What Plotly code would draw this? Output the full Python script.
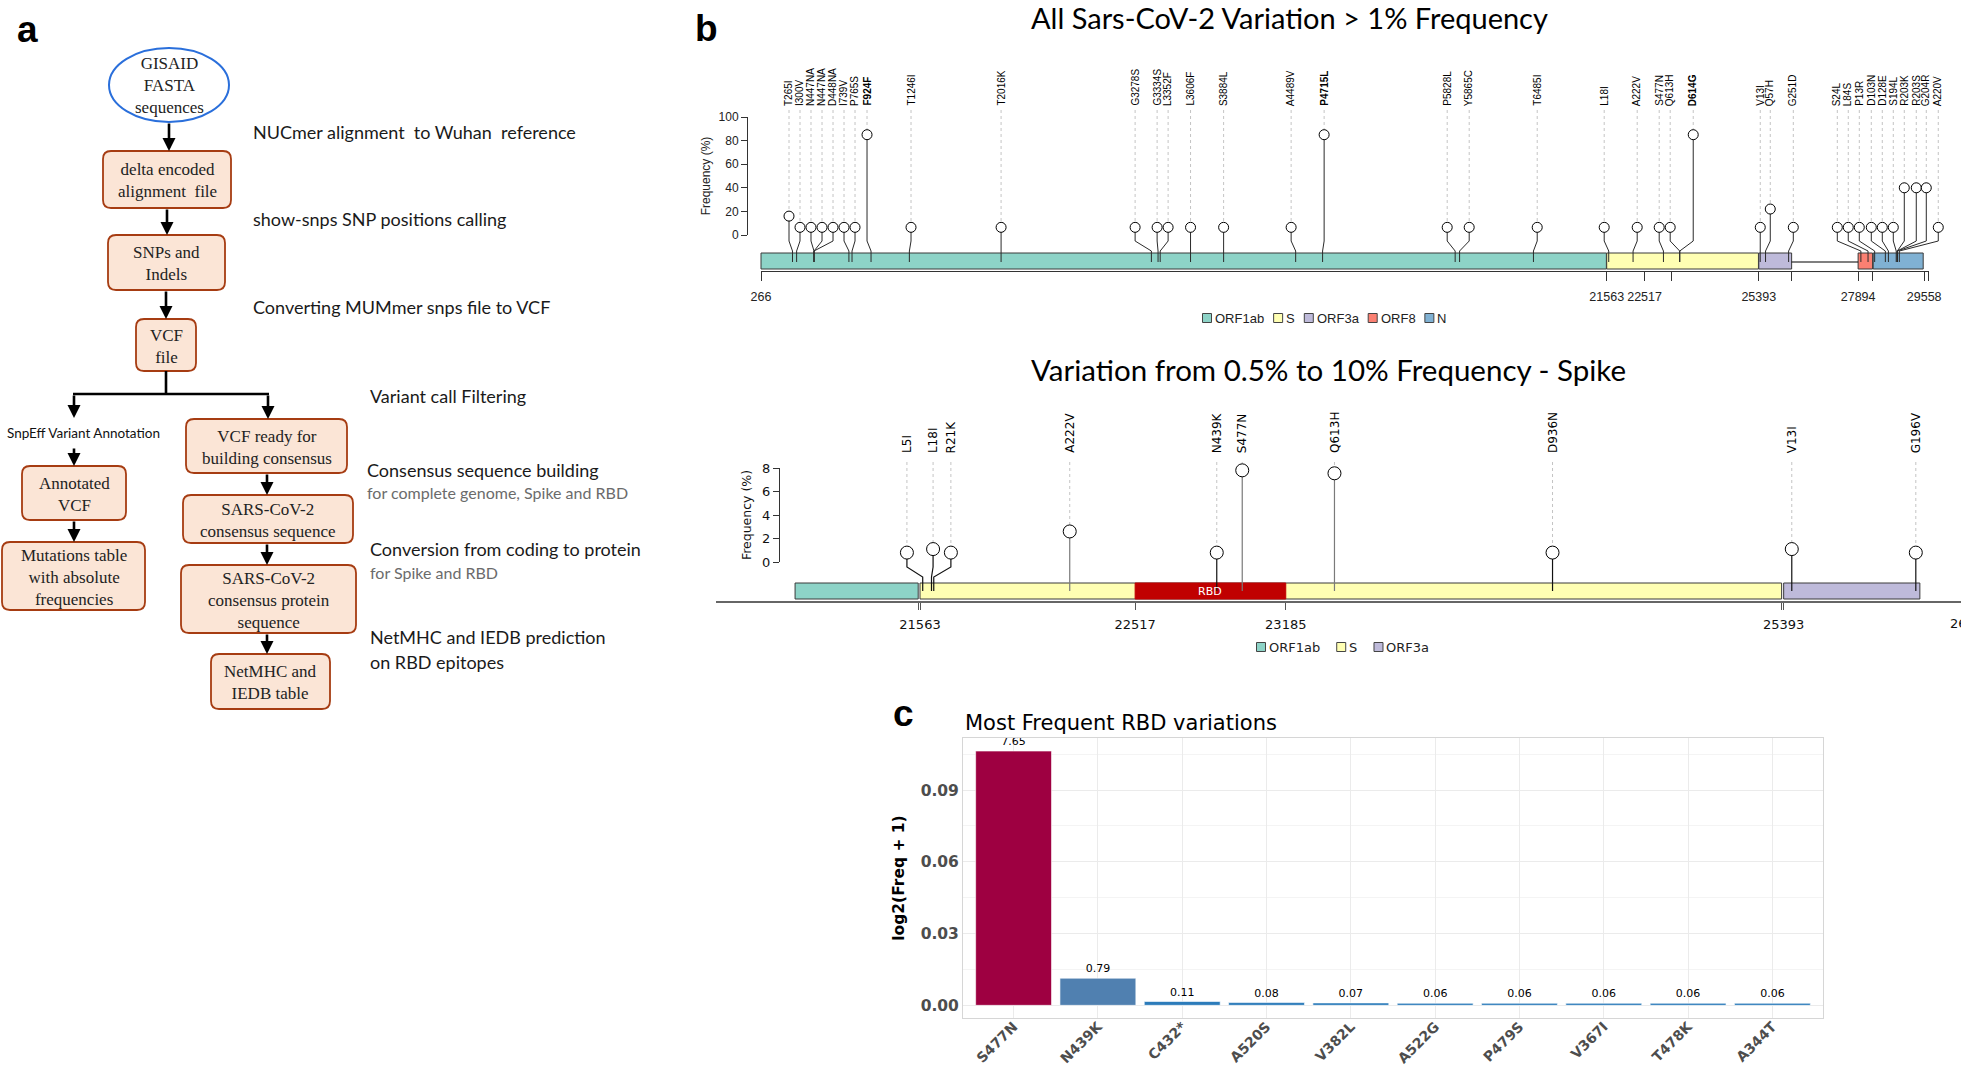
import math
import plotly.graph_objects as go

W, H = 1961, 1070

# ======================= DATA =======================
# Panel b (top): all SARS-CoV-2 variations > 1 % frequency
top_labels = ["T265I", "I300V", "N447NA", "N447NA", "D448NA", "I739V", "P765S", "F924F", "T1246I", "T2016K",
              "G3278S", "G3334S", "L3352F", "L3606F", "S3884L", "A4489V", "P4715L", "P5828L", "Y5865C", "T6485I",
              "L18I", "A222V", "S477N", "Q613H", "D614G", "V13I", "Q57H", "G251D",
              "S24L", "L84S", "P13R", "D103N", "D128E", "S194L", "R203K", "R203S", "G204R", "A220V"]
top_positions = [1059, 1163, 1601, 1601, 1601, 2480, 2558, 3037, 4002, 6312,
                 10097, 10265, 10319, 11083, 11916, 13730, 14408, 17747, 17858, 19718,
                 21614, 22227, 22992, 23401, 23403, 25429, 25563, 26144,
                 27964, 28144, 28311, 28580, 28657, 28854, 28881, 28882, 28883, 28932]
# genomic coordinate at which each lollipop head / label is placed (spread to avoid overlap)
top_label_positions = [971, 1248, 1525, 1803, 2080, 2357, 2634, 2936, 4044, 6312,
                       9687, 10241, 10518, 11083, 11916, 13616, 14447, 17546, 18100, 19813,
                       21500, 22331, 22885, 23162, 23742, 25430, 25682, 26262,
                       27370, 27646, 27924, 28226, 28503, 28780, 29057, 29359, 29611, 29913]
top_freq = [16, 6.5, 6.5, 6.5, 6.5, 6.5, 6.5, 85, 6.5, 6.5,
            6.5, 6.5, 6.5, 6.5, 6.5, 6.5, 85, 6.5, 6.5, 6.5,
            6.5, 6.5, 6.5, 6.5, 85, 6.5, 22, 6.5,
            6.5, 6.5, 6.5, 6.5, 6.5, 6.5, 40, 40, 40, 6.5]

genes_top = ["ORF1ab", "S", "ORF3a", "ORF8", "N"]
genes_top_start = [266, 21563, 25393, 27894, 28274]
genes_top_end = [21555, 25384, 26220, 28259, 29533]
top_ticks_labeled = [266, 21563, 22517, 25393, 27894, 29558]
top_ticks_unlabeled = [23185, 26220, 28259, 29674]
top_freq_ticks = [0, 20, 40, 60, 80, 100]

# Panel b (bottom): variation 0.5 % - 10 % in Spike
spike_labels = ["L5I", "L18I", "R21K", "A222V", "N439K", "S477N", "Q613H", "D936N", "V13I", "G196V"]
spike_positions = [21575, 21614, 21624, 22227, 22879, 22992, 23401, 24368, 25429, 25979]
spike_label_positions = [21505, 21621, 21700, 22227, 22879, 22992, 23401, 24368, 25429, 25979]
spike_freq = [0.8, 1.1, 0.8, 2.6, 0.8, 7.8, 7.55, 0.8, 1.1, 0.8]
genes_spike = ["ORF1ab", "S", "ORF3a"]
genes_spike_start = [21009, 21563, 25393]
genes_spike_end = [21555, 25384, 25997]
rbd_region = [22517, 23185]
spike_ticks_labeled = [21563, 22517, 23185, 25393]
spike_ticks_unlabeled = [21555, 25384]
spike_tick_edge = 26220          # last tick, sits at the right border of the figure
spike_freq_ticks = [0, 2, 4, 6, 8]

# Panel c: most frequent RBD variations (frequency, %)
rbd_variants = ["S477N", "N439K", "C432*", "A520S", "V382L", "A522G", "P479S", "V367I", "T478K", "A344T"]
rbd_freq = [7.65, 0.79, 0.11, 0.08, 0.07, 0.06, 0.06, 0.06, 0.06, 0.06]
rbd_ticks = [0.0, 0.03, 0.06, 0.09]

# ======================= STYLE / HELPERS =======================
gene_colors = {"ORF1ab": "#8DD3C7", "S": "#FFFFB3", "ORF3a": "#BEBADA", "ORF8": "#FB8072", "N": "#80B1D3"}
bar_colors = ["#9E0041", "#5080B0"] + ["#2B7BBA"] * 8

ARIAL = "Liberation Sans, Arial, sans-serif"
DEJAVU = "DejaVu Sans, sans-serif"
CALIB = "Lato, Open Sans, sans-serif"
SERIF = "Liberation Serif, DejaVu Serif, serif"

W_ARIAL = {'O': .778, 'R': .722, 'F': .611, '1': .556, 'a': .556, 'b': .556, 'S': .667, '3': .556, '8': .556, 'N': .722}
W_DEJAVU = {'O': .787, 'R': .695, 'F': .575, '1': .636, 'a': .613, 'b': .635, 'S': .635, '3': .636, '8': .636, 'N': .748}


def text_w(s, table, size):
    return sum(table.get(c, 0.6) for c in s) * size


def pxx(p):
    return p / W


def pxy(p):
    return 1 - p / H


def xdom(a, b):
    return [a / W, min(b / W, 1.0)]


def ydom(top, bot):
    return [1 - bot / H, 1 - top / H]


# top track scales (pixel placement of the panel)
T_G0, T_PX0, T_SX = 266, 761, 0.03971        # genome 266 at px 761
T_PY0, T_SY = 235, 1.18                        # freq 0 at px 235


def t_g(p):
    return T_G0 + (p - T_PX0) / T_SX


def t_f(p):
    return (T_PY0 - p) / T_SY


# bottom track scales
B_G0, B_PX0, B_SX = 21563, 920, 0.2255
B_PY0, B_SY = 562, 11.75


def b_g(p):
    return B_G0 + (p - B_PX0) / B_SX


def b_px(g):
    return B_PX0 + (g - B_G0) * B_SX


def b_f(p):
    return (B_PY0 - p) / B_SY


fig = go.Figure()
shapes = []
annotations = []

# ======================= PANEL A (flow chart) =======================
def rounded_path(x0, y0, x1, y1, r=8):
    return (f"M{x0 + r},{y0} L{x1 - r},{y0} Q{x1},{y0} {x1},{y0 + r} L{x1},{y1 - r} "
            f"Q{x1},{y1} {x1 - r},{y1} L{x0 + r},{y1} Q{x0},{y1} {x0},{y1 - r} "
            f"L{x0},{y0 + r} Q{x0},{y0} {x0 + r},{y0} Z")


flow_boxes = [
    ("delta encoded<br>alignment  file", 103, 151, 231, 208),
    ("SNPs and<br>Indels", 108, 235, 225, 290),
    ("VCF<br>file", 136, 319, 196, 371),
    ("Annotated<br>VCF", 22, 466, 126, 520),
    ("Mutations table<br>with absolute<br>frequencies", 2, 542, 145, 610),
    ("VCF ready for<br>building consensus", 186, 419, 347, 473),
    ("SARS-CoV-2<br>consensus sequence", 183, 495, 353, 543),
    ("SARS-CoV-2<br>consensus protein<br>sequence", 181, 565, 356, 633),
    ("NetMHC and<br>IEDB table", 211, 654, 330, 709),
]
for txt, x0, y0, x1, y1 in flow_boxes:
    shapes.append(dict(type="path", path=rounded_path(x0, y0, x1, y1), xref="x", yref="y",
                       fillcolor="#FBE5D6", line=dict(color="#A63C12", width=1.8)))
    annotations.append(dict(text=txt, x=(x0 + x1) / 2, y=(y0 + y1) / 2 + 1, xref="x", yref="y",
                            showarrow=False, font=dict(family=SERIF, size=17, color="#222"),
                            align="center", xanchor="center", yanchor="middle"))
shapes.append(dict(type="circle", x0=109, y0=48, x1=229, y1=122, xref="x", yref="y",
                   fillcolor="white", line=dict(color="#2A6FDB", width=2)))
annotations.append(dict(text="GISAID<br>FASTA<br>sequences", x=169, y=85, xref="x", yref="y",
                        showarrow=False, font=dict(family=SERIF, size=17, color="#222"), align="center"))

flow_arrows = [((169, 122), (169, 151)), ((167, 208), (167, 235)), ((166, 290), (166, 319)),
               ((74, 394), (74, 418)), ((268, 394), (268, 419)), ((74, 447), (74, 466)),
               ((74, 520), (74, 542)), ((267, 473), (267, 495)), ((267, 543), (267, 565)),
               ((267, 633), (267, 654))]
for (xa, ya), (xh, yh) in flow_arrows:
    annotations.append(dict(text="", x=xh, y=yh, ax=xa, ay=ya, xref="x", yref="y", axref="x", ayref="y",
                            showarrow=True, arrowhead=2, arrowsize=1, arrowwidth=2.6, arrowcolor="black",
                            standoff=0, startstandoff=0))
shapes.append(dict(type="line", x0=166, y0=371, x1=166, y1=395, xref="x", yref="y", line=dict(color="black", width=2.6)))
shapes.append(dict(type="line", x0=73, y0=394, x1=269, y1=394, xref="x", yref="y", line=dict(color="black", width=2.6)))

flow_notes = [
    ("NUCmer alignment  to Wuhan  reference", 251, 132, 18, "#1a1a1a"),
    ("show-snps SNP positions calling", 251, 219, 18, "#1a1a1a"),
    ("Converting MUMmer snps file to VCF", 251, 307, 18, "#1a1a1a"),
    ("Variant call Filtering", 368, 396, 18, "#1a1a1a"),
    ("Consensus sequence building", 365, 470, 18, "#1a1a1a"),
    ("for complete genome, Spike and RBD", 365, 492, 16, "#6b6b6b"),
    ("Conversion from coding to protein", 368, 549, 18, "#1a1a1a"),
    ("for Spike and RBD", 368, 572, 16, "#6b6b6b"),
    ("NetMHC and IEDB prediction", 368, 637, 18, "#1a1a1a"),
    ("on RBD epitopes", 368, 662, 18, "#1a1a1a"),
]
for txt, x, y, s, c in flow_notes:
    annotations.append(dict(text=txt, x=x, y=y, xref="x", yref="y", showarrow=False, xanchor="left",
                            yanchor="middle", font=dict(family=CALIB, size=s, color=c)))
annotations.append(dict(text="SnpEff Variant Annotation", x=83, y=433, xref="x", yref="y", showarrow=False,
                        xanchor="center", font=dict(family=CALIB, size=13.5, color="#111")))

# panel letters
for letter, x, y in [("a", 27, 29), ("b", 706, 28), ("c", 903, 713)]:
    annotations.append(dict(text=f"<b>{letter}</b>", x=x, y=y, xref="x", yref="y", showarrow=False,
                            font=dict(family=ARIAL, size=37, color="black")))

# overlay pixel axis (diagram, legends)
fig.add_trace(go.Scatter(x=[0], y=[0], mode="markers", marker=dict(opacity=0), hoverinfo="skip",
                         xaxis="x", yaxis="y", showlegend=False))

# ======================= PANEL B TOP =======================
annotations.append(dict(text="All Sars-CoV-2 Variation > 1% Frequency", x=pxx(1029), y=pxy(18),
                        xref="paper", yref="paper", xanchor="left", yanchor="middle", showarrow=False,
                        font=dict(family=CALIB, size=29, color="black")))

for g, s0, s1 in zip(genes_top, genes_top_start, genes_top_end):
    shapes.append(dict(type="rect", x0=s0, x1=s1, xref="x2", y0=pxy(269), y1=pxy(253), yref="paper",
                       fillcolor=gene_colors[g], line=dict(color="#3a3a3a", width=1), layer="below"))
for i in range(len(genes_top) - 1):
    if genes_top_start[i + 1] - genes_top_end[i] > 100:
        shapes.append(dict(type="line", x0=genes_top_end[i], x1=genes_top_start[i + 1], xref="x2",
                           y0=pxy(262), y1=pxy(262), yref="paper", line=dict(color="black", width=1.2),
                           layer="below"))

sx, sy, dx, dy = [], [], [], []
for hp, bp, f in zip(top_label_positions, top_positions, top_freq):
    sx += [hp, hp, bp, bp, None]
    sy += [f, t_f(241), t_f(251), t_f(262), None]
    dx += [hp, hp, None]
    dy += [t_f(110), f + 5 / T_SY, None]
fig.add_trace(go.Scatter(x=dx, y=dy, mode="lines", line=dict(color="#c4c4c4", width=1, dash="dot"),
                         xaxis="x2", yaxis="y2", hoverinfo="skip", showlegend=False))
fig.add_trace(go.Scatter(x=sx, y=sy, mode="lines", line=dict(color="#2a2a2a", width=1),
                         xaxis="x2", yaxis="y2", hoverinfo="skip", showlegend=False))
fig.add_trace(go.Scatter(x=top_label_positions, y=top_freq, mode="markers",
                         marker=dict(size=10, color="white", line=dict(color="black", width=1)),
                         xaxis="x2", yaxis="y2", hoverinfo="skip", showlegend=False, cliponaxis=False))
for lab, hp, f in zip(top_labels, top_label_positions, top_freq):
    t = f"<b>{lab}</b>" if f > 50 else lab
    annotations.append(dict(text=t, x=hp, y=pxy(108), xref="x2", yref="paper", textangle=-90,
                            xanchor="center", yanchor="bottom", showarrow=False,
                            font=dict(family=ARIAL, size=10, color="black")))

# display axes for top track
fig.add_trace(go.Scatter(x=[T_G0], y=[0], mode="markers", marker=dict(opacity=0), hoverinfo="skip",
                         xaxis="x3", yaxis="y3", showlegend=False))

# top legend
lx, ly, lc = [], [], []
x = 1207
for g in genes_top:
    lx.append(x); ly.append(318); lc.append(gene_colors[g])
    annotations.append(dict(text=g, x=x + 6, y=318, xref="x", yref="y", xanchor="left", yanchor="middle",
                            showarrow=False, font=dict(family=ARIAL, size=13, color="#222")))
    x += 10 + text_w(g, W_ARIAL, 13) + 12
fig.add_trace(go.Scatter(x=lx, y=ly, mode="markers", xaxis="x", yaxis="y", hoverinfo="skip", showlegend=False,
                         marker=dict(symbol="square", size=9, color=lc, line=dict(color="#444", width=1))))

# ======================= PANEL B BOTTOM =======================
annotations.append(dict(text="Variation from 0.5% to 10% Frequency - Spike", x=pxx(1029), y=pxy(369),
                        xref="paper", yref="paper", xanchor="left", yanchor="middle", showarrow=False,
                        font=dict(family=CALIB, size=29.5, color="black")))
for g, s0, s1 in zip(genes_spike, genes_spike_start, genes_spike_end):
    shapes.append(dict(type="rect", x0=s0, x1=s1, xref="x4", y0=pxy(599), y1=pxy(583), yref="paper",
                       fillcolor=gene_colors[g], line=dict(color="#3a3a3a", width=1), layer="below"))
shapes.append(dict(type="rect", x0=rbd_region[0], x1=rbd_region[1], xref="x4", y0=pxy(599), y1=pxy(583),
                   yref="paper", fillcolor="#C00000", line=dict(color="#C00000", width=1), layer="below"))
annotations.append(dict(text="RBD", x=sum(rbd_region) / 2, y=pxy(591), xref="x4", yref="paper",
                        showarrow=False, font=dict(family=DEJAVU, size=11, color="white")))

gx, gy, kx, ky, ddx, ddy = [], [], [], [], [], []
for hp, bp, f in zip(spike_label_positions, spike_positions, spike_freq):
    seg_x = [hp, hp, bp, bp, None]
    seg_y = [f, b_f(567), b_f(577), b_f(591), None]
    if f >= 2:
        gx += seg_x; gy += seg_y
    else:
        kx += seg_x; ky += seg_y
    ddx += [hp, hp, None]
    ddy += [b_f(462), f + 6.5 / B_SY, None]
fig.add_trace(go.Scatter(x=ddx, y=ddy, mode="lines", line=dict(color="#c4c4c4", width=1, dash="dot"),
                         xaxis="x4", yaxis="y4", hoverinfo="skip", showlegend=False))
fig.add_trace(go.Scatter(x=gx, y=gy, mode="lines", line=dict(color="#7a7a7a", width=1.2),
                         xaxis="x4", yaxis="y4", hoverinfo="skip", showlegend=False))
fig.add_trace(go.Scatter(x=kx, y=ky, mode="lines", line=dict(color="#111", width=1.2),
                         xaxis="x4", yaxis="y4", hoverinfo="skip", showlegend=False))
fig.add_trace(go.Scatter(x=spike_label_positions, y=spike_freq, mode="markers",
                         marker=dict(size=13, color="white", line=dict(color="black", width=1)),
                         xaxis="x4", yaxis="y4", hoverinfo="skip", showlegend=False, cliponaxis=False))
for lab, hp in zip(spike_labels, spike_label_positions):
    annotations.append(dict(text=lab, x=hp, y=pxy(455), xref="x4", yref="paper", textangle=-90,
                            xanchor="center", yanchor="bottom", showarrow=False,
                            font=dict(family=DEJAVU, size=12, color="black")))
fig.add_trace(go.Scatter(x=[B_G0], y=[0], mode="markers", marker=dict(opacity=0), hoverinfo="skip",
                         xaxis="x5", yaxis="y5", showlegend=False))
# last tick label of the spike axis, which falls on the figure's right border (cut, as in the original)
annotations.append(dict(text=str(spike_tick_edge), x=pxx(b_px(spike_tick_edge)), y=pxy(623), xref="paper",
                        yref="paper", xanchor="center", yanchor="middle", showarrow=False,
                        font=dict(family=DEJAVU, size=13, color="#111")))

# bottom legend
lx, ly, lc = [], [], []
x = 1261
for g in genes_spike:
    lx.append(x); ly.append(647); lc.append(gene_colors[g])
    annotations.append(dict(text=g, x=x + 6, y=647, xref="x", yref="y", xanchor="left", yanchor="middle",
                            showarrow=False, font=dict(family=DEJAVU, size=13, color="#222")))
    x += 10 + text_w(g, W_DEJAVU, 13) + 19
fig.add_trace(go.Scatter(x=lx, y=ly, mode="markers", xaxis="x", yaxis="y", hoverinfo="skip", showlegend=False,
                         marker=dict(symbol="square", size=9, color=lc, line=dict(color="#444", width=1))))

# ======================= PANEL C =======================
rbd_log = [math.log2(1 + f / 100) for f in rbd_freq]
fig.add_trace(go.Bar(x=rbd_variants, y=rbd_log, width=0.9, marker=dict(color=bar_colors,
                     line=dict(color="rgba(255,255,255,0.6)", width=1)),
                     text=[f"{f:.2f}" for f in rbd_freq], textposition="outside", cliponaxis=False,
                     textfont=dict(family=DEJAVU, size=11, color="black"),
                     xaxis="x6", yaxis="y6", hoverinfo="skip", showlegend=False))
annotations.append(dict(text="Most Frequent RBD variations", x=pxx(963), y=pxy(723), xref="paper", yref="paper",
                        xanchor="left", yanchor="middle", showarrow=False,
                        font=dict(family=DEJAVU, size=21, color="black")))

# ======================= LAYOUT =======================
hidden = dict(visible=False, fixedrange=True, showgrid=False, zeroline=False, automargin=False)
layout = dict(
    width=W, height=H, margin=dict(l=0, r=0, t=0, b=0, pad=0, autoexpand=False),
    paper_bgcolor="white", plot_bgcolor="rgba(0,0,0,0)", showlegend=False, hovermode=False,
    xaxis=dict(domain=[0, 1], range=[0, W], anchor="y", **hidden),
    yaxis=dict(domain=[0, 1], range=[H, 0], anchor="x", **hidden),
    # top track (data)
    xaxis2=dict(domain=xdom(700, W), range=[t_g(700), t_g(W)], anchor="y2", **hidden),
    yaxis2=dict(domain=ydom(40, 345), range=[t_f(345), t_f(40)], anchor="x2", **hidden),
    # top track (display axes)
    xaxis3=dict(domain=xdom(T_PX0, T_PX0 + (top_ticks_unlabeled[-1] - T_G0) * T_SX),
                range=[T_G0, top_ticks_unlabeled[-1]], anchor="free", position=pxy(271),
                showline=True, linecolor="#333", linewidth=1, ticks="outside", ticklen=9, tickcolor="#333",
                tickvals=top_ticks_labeled + top_ticks_unlabeled,
                ticktext=[str(v) for v in top_ticks_labeled] + [""] * len(top_ticks_unlabeled),
                tickfont=dict(family=ARIAL, size=12.5, color="#222"), ticklabelstandoff=5,
                showgrid=False, zeroline=False, fixedrange=True, automargin=False),
    yaxis3=dict(domain=ydom(117, 235), range=[0, 100], anchor="free", position=pxx(747),
                showline=True, linecolor="#333", ticks="outside", ticklen=6, tickcolor="#333",
                tickvals=top_freq_ticks, tickfont=dict(family=ARIAL, size=12, color="#222"),
                title=dict(text="Frequency (%)", font=dict(family=ARIAL, size=12, color="#222"), standoff=4),
                showgrid=False, zeroline=False, fixedrange=True, automargin=False),
    # bottom track (data)
    xaxis4=dict(domain=xdom(700, W), range=[b_g(700), b_g(W)], anchor="y4", **hidden),
    yaxis4=dict(domain=ydom(420, 615), range=[b_f(615), b_f(420)], anchor="x4", **hidden),
    # bottom track (display axes)
    xaxis5=dict(domain=xdom(716, W), range=[b_g(716), b_g(W)], anchor="free", position=pxy(602),
                showline=True, linecolor="#666", linewidth=1.6, ticks="outside", ticklen=7, tickcolor="#555",
                tickvals=spike_ticks_labeled + spike_ticks_unlabeled,
                ticktext=[str(v) for v in spike_ticks_labeled] + [""] * len(spike_ticks_unlabeled),
                tickfont=dict(family=DEJAVU, size=13, color="#111"), ticklabelstandoff=4,
                showgrid=False, zeroline=False, fixedrange=True, automargin=False),
    yaxis5=dict(domain=ydom(468, 562), range=[0, 8], anchor="free", position=pxx(779),
                showline=True, linecolor="#333", ticks="outside", ticklen=6, tickcolor="#333",
                tickvals=spike_freq_ticks, tickfont=dict(family=DEJAVU, size=13, color="#111"),
                title=dict(text="Frequency (%)", font=dict(family=DEJAVU, size=12.5, color="#111"), standoff=6),
                showgrid=False, zeroline=False, fixedrange=True, automargin=False),
    # panel c
    xaxis6=dict(domain=xdom(963, 1823), range=[-0.6, len(rbd_variants) - 0.4], anchor="y6", type="category",
                tickangle=-45, tickfont=dict(family=DEJAVU, size=14, color="#4D4D4D", weight="bold"),
                ticklabelstandoff=-6,
                showgrid=True, gridcolor="#EBEBEB", gridwidth=1, showline=True, mirror=True,
                linecolor="#D6D6D6", ticks="", zeroline=False, fixedrange=True, automargin=False),
    yaxis6=dict(domain=ydom(738, 1018), range=[-0.0053, 0.1118], anchor="x6",
                tickvals=rbd_ticks, ticktext=[f"{v:.2f}" for v in rbd_ticks],
                tickfont=dict(family=DEJAVU, size=15.5, color="#4D4D4D", weight="bold"),
                showgrid=True, gridcolor="#EBEBEB", gridwidth=1,
                minor=dict(tickvals=[0.015, 0.045, 0.075, 0.105], showgrid=True, gridcolor="#F4F4F4", ticks=""),
                showline=True, mirror=True, linecolor="#D6D6D6", ticks="", zeroline=False,
                title=dict(text="log2(Freq + 1)", font=dict(family=DEJAVU, size=15.5, color="black", weight="bold"),
                           standoff=12),
                fixedrange=True, automargin=False),
    shapes=shapes,
    annotations=annotations,
)
fig.update_layout(**layout)
fig.write_html("out.html", include_plotlyjs=True, config={"displayModeBar": False},
               post_script="document.body.style.margin='0px';document.documentElement.style.overflow='hidden';")
